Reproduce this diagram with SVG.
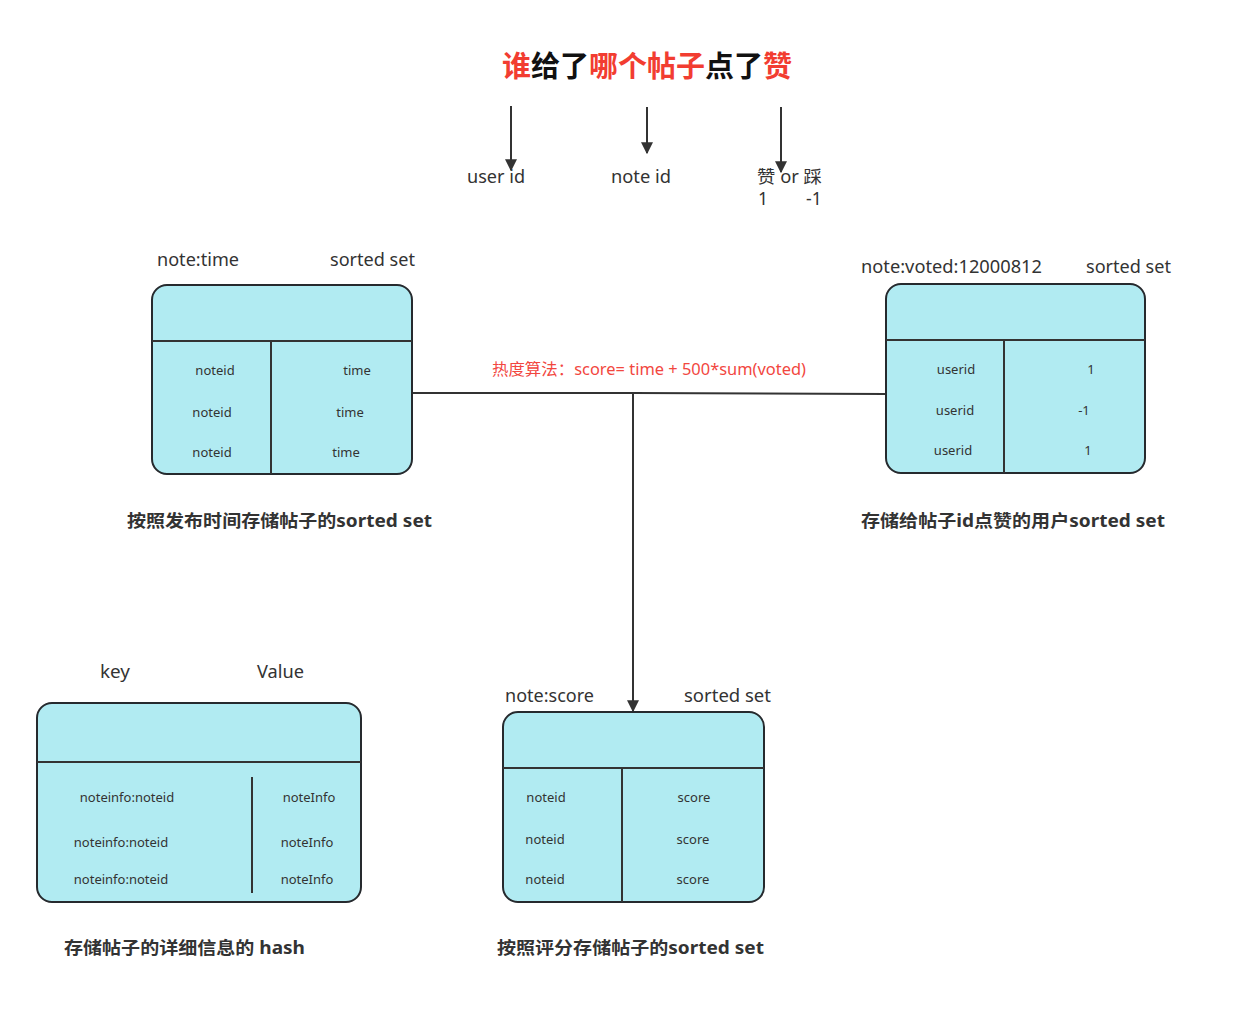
<svg xmlns="http://www.w3.org/2000/svg" width="1249" height="1020" viewBox="0 0 1249 1020">
<style>
text{font-family:"Noto Sans","Noto Sans CJK SC",sans-serif;fill:#333}
.box{fill:#b1ebf2;stroke:#262a2e;stroke-width:2}
.ln{stroke:#333;stroke-width:2;fill:none}
.s{font-size:13px}
.m{font-size:17.5px}
.cap{font-size:17.5px;font-weight:bold;fill:#333}
.red{fill:#f23d31}
.blk{fill:#111}
</style>
<defs>
<marker id="ah" viewBox="0 0 10 10" refX="9" refY="5" markerWidth="6" markerHeight="6" markerUnits="strokeWidth" orient="auto">
<path d="M0,0 L10,5 L0,10 z" fill="#333"/>
</marker>
</defs>
<rect width="1249" height="1020" fill="#fff"/>

<g id="title">
<text x="502" y="77" textLength="290" lengthAdjust="spacingAndGlyphs" style="font-size:29px;font-weight:bold"><tspan class="red">谁</tspan><tspan class="blk">给了</tspan><tspan class="red">哪个帖子</tspan><tspan class="blk">点了</tspan><tspan class="red">赞</tspan></text>
</g>

<g id="labels-top">
<text x="467" y="183" class="m" textLength="58" lengthAdjust="spacingAndGlyphs">user id</text>
<text x="611" y="183" class="m" textLength="60" lengthAdjust="spacingAndGlyphs">note id</text>
<text x="757" y="183" class="m" textLength="65" lengthAdjust="spacingAndGlyphs">赞 or 踩</text>
<text x="758" y="205" class="m">1</text>
<text x="806" y="205" class="m">-1</text>
</g>

<g id="connectors">
<line class="ln" x1="511" y1="106" x2="511" y2="170" marker-end="url(#ah)"/>
<line class="ln" x1="647" y1="107" x2="647" y2="153" marker-end="url(#ah)"/>
<line class="ln" x1="781" y1="107" x2="781" y2="172" marker-end="url(#ah)"/>
<polyline class="ln" points="412,393 633,393 886,394"/>
<line class="ln" x1="633" y1="393" x2="633" y2="711" marker-end="url(#ah)"/>
<text x="492" y="375" textLength="314" lengthAdjust="spacingAndGlyphs" style="font-size:16px;fill:#f2473f">热度算法：score= time + 500*sum(voted)</text>
</g>

<g id="note-time">
<text x="157" y="266" class="m" textLength="82" lengthAdjust="spacingAndGlyphs">note:time</text>
<text x="330" y="266" class="m" textLength="85" lengthAdjust="spacingAndGlyphs">sorted set</text>
<rect class="box" x="152" y="285" width="260" height="189" rx="15"/>
<line class="ln" x1="152" y1="341" x2="412" y2="341"/>
<line class="ln" x1="271" y1="341" x2="271" y2="474"/>
<text class="s" x="215" y="375" text-anchor="middle">noteid</text>
<text class="s" x="212" y="417" text-anchor="middle">noteid</text>
<text class="s" x="212" y="457" text-anchor="middle">noteid</text>
<text class="s" x="357" y="375" text-anchor="middle">time</text>
<text class="s" x="350" y="417" text-anchor="middle">time</text>
<text class="s" x="346" y="457" text-anchor="middle">time</text>
<text class="cap" x="127" y="527" textLength="305" lengthAdjust="spacingAndGlyphs">按照发布时间存储帖子的sorted set</text>
</g>

<g id="note-voted">
<text x="861" y="273" class="m" textLength="181" lengthAdjust="spacingAndGlyphs">note:voted:12000812</text>
<text x="1086" y="273" class="m" textLength="85" lengthAdjust="spacingAndGlyphs">sorted set</text>
<rect class="box" x="886" y="284" width="259" height="189" rx="15"/>
<line class="ln" x1="886" y1="340" x2="1145" y2="340"/>
<line class="ln" x1="1004" y1="340" x2="1004" y2="473"/>
<text class="s" x="956" y="374" text-anchor="middle">userid</text>
<text class="s" x="955" y="415" text-anchor="middle">userid</text>
<text class="s" x="953" y="455" text-anchor="middle">userid</text>
<text class="s" x="1091" y="374" text-anchor="middle">1</text>
<text class="s" x="1084" y="415" text-anchor="middle">-1</text>
<text class="s" x="1088" y="455" text-anchor="middle">1</text>
<text class="cap" x="861" y="527" textLength="304" lengthAdjust="spacingAndGlyphs">存储给帖子id点赞的用户sorted set</text>
</g>

<g id="note-info">
<text x="100" y="678" class="m" textLength="30" lengthAdjust="spacingAndGlyphs">key</text>
<text x="257" y="678" class="m" textLength="47" lengthAdjust="spacingAndGlyphs">Value</text>
<rect class="box" x="37" y="703" width="324" height="199" rx="15"/>
<line class="ln" x1="37" y1="762" x2="361" y2="762"/>
<line class="ln" x1="252" y1="777" x2="252" y2="893"/>
<text class="s" x="127" y="802" text-anchor="middle">noteinfo:noteid</text>
<text class="s" x="121" y="847" text-anchor="middle">noteinfo:noteid</text>
<text class="s" x="121" y="884" text-anchor="middle">noteinfo:noteid</text>
<text class="s" x="309" y="802" text-anchor="middle">noteInfo</text>
<text class="s" x="307" y="847" text-anchor="middle">noteInfo</text>
<text class="s" x="307" y="884" text-anchor="middle">noteInfo</text>
<text class="cap" x="64" y="954" textLength="241" lengthAdjust="spacingAndGlyphs">存储帖子的详细信息的 hash</text>
</g>

<g id="note-score">
<text x="505" y="702" class="m" textLength="89" lengthAdjust="spacingAndGlyphs">note:score</text>
<text x="684" y="702" class="m" textLength="87" lengthAdjust="spacingAndGlyphs">sorted set</text>
<rect class="box" x="503" y="712" width="261" height="190" rx="15"/>
<line class="ln" x1="503" y1="768" x2="764" y2="768"/>
<line class="ln" x1="622" y1="768" x2="622" y2="902"/>
<text class="s" x="546" y="802" text-anchor="middle">noteid</text>
<text class="s" x="545" y="844" text-anchor="middle">noteid</text>
<text class="s" x="545" y="884" text-anchor="middle">noteid</text>
<text class="s" x="694" y="802" text-anchor="middle">score</text>
<text class="s" x="693" y="844" text-anchor="middle">score</text>
<text class="s" x="693" y="884" text-anchor="middle">score</text>
<text class="cap" x="497" y="954" textLength="267" lengthAdjust="spacingAndGlyphs">按照评分存储帖子的sorted set</text>
</g>
</svg>
